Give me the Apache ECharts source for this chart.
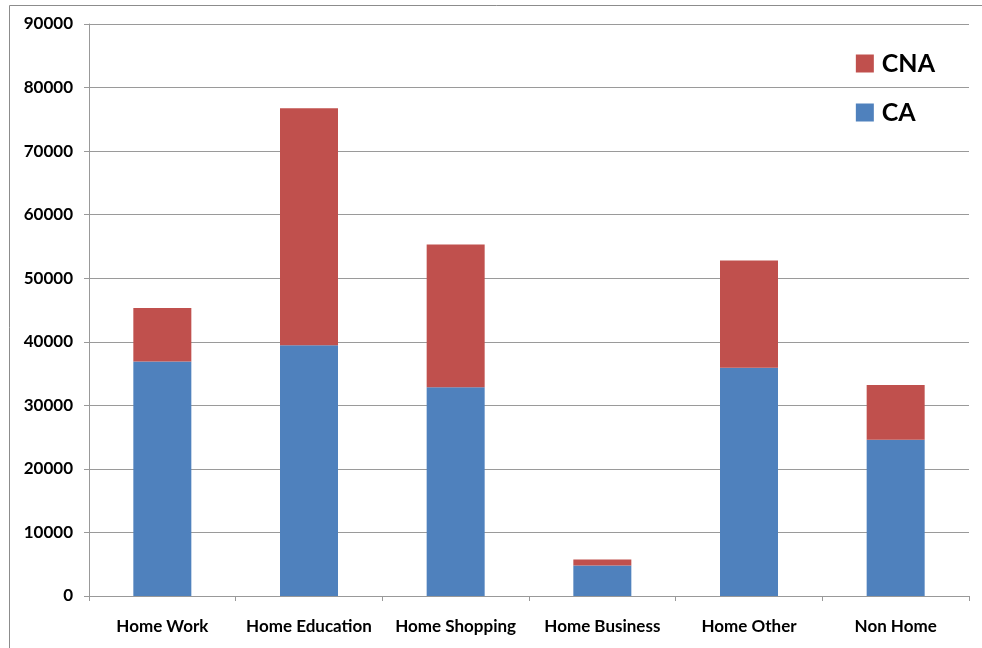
<!DOCTYPE html>
<html>
<head>
<meta charset="utf-8">
<script src="https://cdn.jsdelivr.net/npm/echarts@6/dist/echarts.min.js"></script>
<style>
  html, body { margin: 0; padding: 0; background: #fff; }
  #chart { width: 982px; height: 648px; }
</style>
</head>
<body>
<div id="chart"></div>
<script>
// Trip purposes and the two stacked components
const categories = ['Home Work', 'Home Education', 'Home Shopping', 'Home Business', 'Home Other', 'Non Home'];
const caValues  = [36900, 39450, 32850, 4800, 35900, 24600];
const cnaValues = [8400, 37300, 22450, 950, 16900, 8600];
const yTicks = { min: 0, max: 90000, interval: 10000 };

const FONT = 'Lato, "Open Sans", sans-serif';
const chart = echarts.init(document.getElementById('chart'), null, { renderer: 'canvas' });

chart.setOption({
  animation: false,
  backgroundColor: '#ffffff',
  textStyle: { fontFamily: FONT },
  graphic: [{
    type: 'rect',
    shape: { x: 9.5, y: 5.5, width: 1000, height: 700 },
    style: { fill: 'none', stroke: '#8c8c8c', lineWidth: 1 },
    silent: true
  }],
  grid: { left: 89, right: 13, top: 24, bottom: 52 },
  legend: {
    orient: 'vertical',
    right: 42,
    top: 46,
    itemWidth: 18,
    itemHeight: 18,
    itemGap: 24,
    data: ['CNA', 'CA'],
    textStyle: { fontFamily: FONT, fontWeight: 'bold', fontSize: 25, color: '#000', padding: [0, 0, 0, 3] },
    icon: 'rect'
  },
  xAxis: {
    type: 'category',
    data: categories,
    axisLine: { lineStyle: { color: '#999', width: 1 } },
    axisTick: { show: true, alignWithLabel: false, length: 5, lineStyle: { color: '#999' } },
    axisLabel: { color: '#000', fontFamily: FONT, fontWeight: 'bold', fontSize: 17, margin: 22, interval: 0 }
  },
  yAxis: {
    type: 'value',
    min: yTicks.min,
    max: yTicks.max,
    interval: yTicks.interval,
    axisLine: { show: true, lineStyle: { color: '#999', width: 1 } },
    axisTick: { show: true, length: 5, lineStyle: { color: '#999' } },
    axisLabel: {
      color: '#000', fontFamily: FONT, fontWeight: 'bold', fontSize: 17, margin: 16,
      formatter: v => String(v)
    },
    splitLine: { show: true, lineStyle: { color: '#9a9a9a', width: 1 } }
  },
  series: [
    {
      name: 'CA',
      type: 'bar',
      stack: 'total',
      barWidth: 58,
      data: caValues,
      itemStyle: { color: '#4F81BD' }
    },
    {
      name: 'CNA',
      type: 'bar',
      stack: 'total',
      barWidth: 58,
      data: cnaValues,
      itemStyle: { color: '#C0504D' }
    }
  ]
});
</script>
</body>
</html>
